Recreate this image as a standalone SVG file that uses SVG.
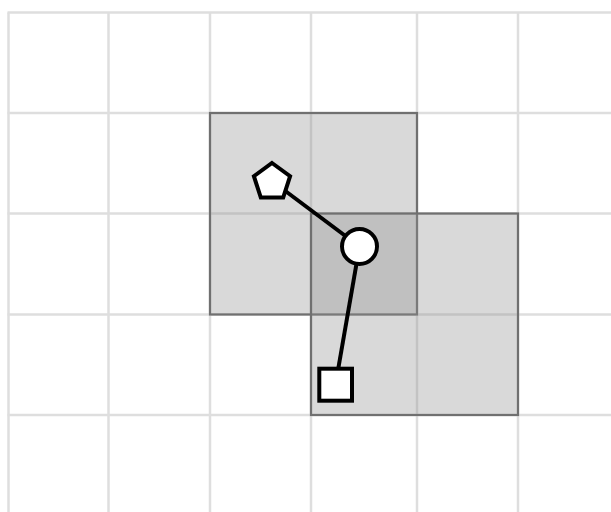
<svg xmlns="http://www.w3.org/2000/svg" width="611" height="512" viewBox="0 0 611 512">
<style>
.grid line{stroke:#dedede;stroke-width:2.5}
.cell{fill:#909090;fill-opacity:0.34;stroke:#707070;stroke-width:2.2}
.edge{stroke:#000;stroke-width:4;fill:none}
.node{fill:#fff;stroke:#000;stroke-width:4}
</style>
<rect width="611" height="512" fill="#fff"/>
<g class="grid">
<line x1="8.5" y1="12.5" x2="8.5" y2="512"/>
<line x1="108.5" y1="12.5" x2="108.5" y2="512"/>
<line x1="210" y1="12.5" x2="210" y2="512"/>
<line x1="311" y1="12.5" x2="311" y2="512"/>
<line x1="417" y1="12.5" x2="417" y2="512"/>
<line x1="518" y1="12.5" x2="518" y2="512"/>
<line x1="7.5" y1="12.5" x2="611" y2="12.5"/>
<line x1="7.5" y1="113" x2="611" y2="113"/>
<line x1="7.5" y1="213.5" x2="611" y2="213.5"/>
<line x1="7.5" y1="314.5" x2="611" y2="314.5"/>
<line x1="7.5" y1="415" x2="611" y2="415"/>
</g>
<g id="regions">
<rect class="cell" x="210" y="113" width="207" height="201.5"/>
<rect class="cell" x="311" y="213.5" width="207" height="201.5"/>
</g>
<g id="connectors">
<line class="edge" x1="272" y1="181" x2="359.5" y2="246.5"/>
<line class="edge" x1="359.5" y1="246.5" x2="335.5" y2="384.5"/>
</g>
<g id="pentagon">
<polygon class="node" points="272,163 290.1,176.2 283.2,197.5 260.8,197.5 253.9,176.2"/>
</g>
<g id="circle">
<circle class="node" cx="359.5" cy="246.5" r="17.5"/>
</g>
<g id="square">
<rect class="node" x="319.3" y="368.7" width="32.7" height="32"/>
</g>
</svg>
